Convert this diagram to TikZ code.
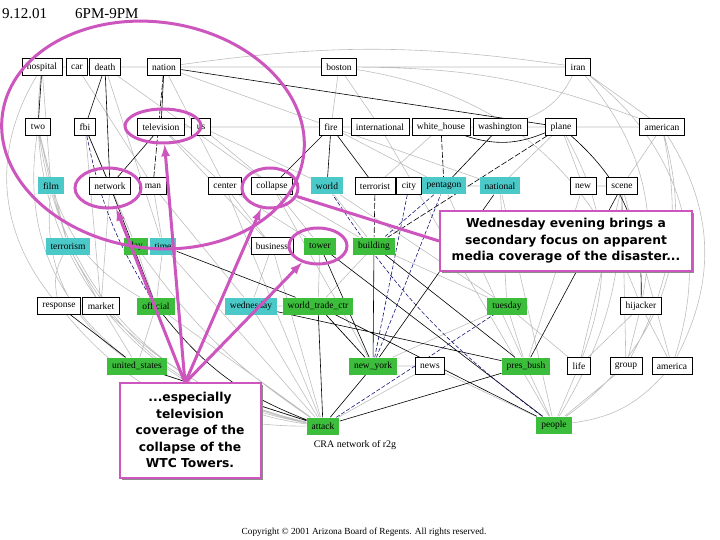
\documentclass[tikz,border=0pt]{standalone}
\usepackage{fontspec}
\setmainfont{Liberation Serif}
\newfontfamily\calloutfont{DejaVu Sans}
\usetikzlibrary{shapes.geometric,backgrounds,shadows}

\definecolor{termgreen}{RGB}{60,190,60}
\definecolor{termcyan}{RGB}{75,200,200}
\definecolor{callpink}{RGB}{205,85,190}
\definecolor{edgegray}{RGB}{190,190,190}
\definecolor{edgenavy}{RGB}{25,25,120}

\tikzset{
  term/.style={inner xsep=5pt, inner ysep=0pt, minimum height=17pt, font=\fontsize{9.5}{10}\selectfont},
  plainterm/.style={term, draw=black, line width=0.8pt, fill=white},
  greenterm/.style={term, fill=termgreen},
  cyanterm/.style={term, fill=termcyan},
  grayedge/.style={draw=edgegray, line width=0.6pt},
  blackedge/.style={draw=black, line width=0.6pt},
  brokenedge/.style={draw=black, line width=0.6pt, dash pattern=on 6pt off 2pt},
  navyedge/.style={draw=edgenavy, line width=0.6pt, dash pattern=on 4pt off 2pt},
  ring/.style={ellipse, draw=callpink, line width=3pt, inner sep=0pt},
  pointer/.style={draw=callpink, line width=3pt},
  callout/.style={draw=callpink, line width=2pt, fill=white, align=center, inner sep=0pt,
    font=\calloutfont\bfseries\fontsize{12.3}{16.5}\selectfont,
    drop shadow={shadow xshift=2pt, shadow yshift=-2pt, fill=black!45, opacity=1}},
}

\begin{document}
\begin{tikzpicture}[x=1pt, y=-1pt]
	\useasboundingbox (0,0) rectangle (720,540);

	% heading
	\node[anchor=west, inner sep=0pt, font=\fontsize{15}{16}\selectfont] (date) at (2,14) {9.12.01};
	\node[anchor=west, inner sep=0pt, font=\fontsize{15}{16}\selectfont] (slot) at (75,14) {6PM-9PM};

	% row 1
	\node[plainterm] (hospital) at (42,67) {hospital};
	\node[plainterm] (car) at (77,67) {car};
	\node[plainterm] (death) at (105,67) {death};
	\node[plainterm] (nation) at (164,67) {nation};
	\node[plainterm] (boston) at (339,67) {boston};
	\node[plainterm] (iran) at (578,67) {iran};
	% row 2
	\node[plainterm] (two) at (38,127) {two};
	\node[plainterm] (fbi) at (85,127) {fbi};
	\node[plainterm] (television) at (161,127) {television};
	\node[plainterm] (us) at (201,127) {us};
	\node[plainterm] (fire) at (331,127) {fire};
	\node[plainterm] (international) at (380,127) {international};
	\node[plainterm] (whitehouse) at (441,127) {white\_house};
	\node[plainterm] (washington) at (500,127) {washington};
	\node[plainterm] (plane) at (561,127) {plane};
	\node[plainterm] (american) at (662,127) {american};
	% row 3
	\node[cyanterm] (film) at (51,186) {film};
	\node[plainterm] (network) at (110,186) {network};
	\node[plainterm] (man) at (153,186) {man};
	\node[plainterm] (center) at (225,186) {center};
	\node[plainterm] (collapse) at (272,186) {collapse};
	\node[cyanterm] (world) at (327,186) {world};
	\node[plainterm] (terrorist) at (375,186) {terrorist};
	\node[plainterm] (city) at (409,186) {city};
	\node[cyanterm] (pentagon) at (444,186) {pentagon};
	\node[cyanterm] (national) at (500,186) {national};
	\node[plainterm] (new) at (583,186) {new};
	\node[plainterm] (scene) at (622,186) {scene};
	% row 4
	\node[cyanterm] (terrorism) at (68,246) {terrorism};
	\node[greenterm] (day) at (136,246) {day};
	\node[cyanterm] (time) at (163,246) {time};
	\node[plainterm] (business) at (272,246) {business};
	\node[greenterm] (tower) at (320,246) {tower};
	\node[greenterm] (building) at (374,246) {building};
	% row 5
	\node[plainterm] (response) at (59,306) {response};
	\node[plainterm] (market) at (101,306) {market};
	\node[greenterm] (official) at (156,306) {official};
	\node[cyanterm] (wednesday) at (251,306) {wednesday};
	\node[greenterm] (wtc) at (318,306) {world\_trade\_ctr};
	\node[greenterm] (tuesday) at (507,306) {tuesday};
	\node[plainterm] (hijacker) at (641,306) {hijacker};
	% row 6
	\node[greenterm] (usa) at (137,366) {united\_states};
	\node[greenterm] (newyork) at (373,366) {new\_york};
	\node[plainterm] (news) at (430,366) {news};
	\node[greenterm] (bush) at (526,366) {pres\_bush};
	\node[plainterm] (life) at (579,366) {life};
	\node[plainterm] (group) at (626,366) {group};
	\node[plainterm] (america) at (672,366) {america};
	% row 7
	\node[greenterm] (attack) at (323,426) {attack};
	\node[greenterm] (people) at (554,425) {people};

	\node[font=\fontsize{10}{11}\selectfont] (cralabel) at (355,445) {CRA network of r2g};
	\node[font=\fontsize{9.3}{10}\selectfont] (copyright) at (364,532) {Copyright \textcopyright{} 2001 Arizona Board of Regents. All rights reserved.};

	% links
	\begin{scope}[on background layer]
	\draw[grayedge] (hospital) -- (car) (hospital) -- (film) (hospital) to[bend right=35] (response) (car) -- (boston) (car) -- (man)
		(death) -- (boston) (death) -- (collapse) (death) -- (time) (nation) -- (boston) (nation) -- (center) (nation) -- (fire)
		(nation) to[bend left=8] (iran) (boston) -- (iran) (boston) -- (fire) (boston) -- (international) (boston) to[bend left=10] (american)
		(iran) -- (american) (iran) to[bend left=20] (washington) (two) -- (film) (two) to[bend right=30] (usa) (two) -- (terrorism)
		(fbi) -- (day) (fbi) -- (market) (television) -- (center) (television) -- (fire) (us) -- (world) (us) -- (international)
		(us) -- (collapse) (fire) -- (international) (fire) -- (pentagon) (international) -- (whitehouse) (whitehouse) -- (washington)
		(washington) -- (american) (american) -- (scene) (american) to[bend left=30] (america) (american) to[bend left=20] (group)
		(plane) -- (new) (plane) -- (national) (network) -- (market) (network) -- (day) (man) -- (time) (man) -- (wednesday)
		(center) -- (business) (center) -- (tower) (collapse) -- (building) (collapse) -- (tower) (world) -- (building)
		(terrorist) -- (city) (city) -- (pentagon) (pentagon) -- (national) (national) -- (tuesday) (new) -- (scene) (new) -- (bush)
		(scene) -- (life) (scene) -- (group) (scene) -- (america) (film) -- (terrorism) (terrorism) to[bend right=20] (response)
		(terrorism) -- (market) (day) -- (official) (time) -- (official) (business) -- (wednesday) (tower) -- (wtc) (building) -- (wtc)
		(building) -- (tuesday) (response) -- (market) (market) -- (usa) (official) -- (usa) (wednesday) -- (wtc) (wtc) -- (newyork)
		(tuesday) -- (newyork) (tuesday) -- (bush) (tuesday) -- (life) (hijacker) -- (life) (hijacker) -- (group) (hijacker) -- (america)
		(newyork) -- (news) (news) -- (attack) (news) -- (people) (bush) -- (people) (life) -- (people) (group) -- (people)
		(america) to[bend left=20] (people) (usa) -- (attack) (attack) -- (official) (attack) -- (wednesday) (attack) to[bend left=25] (response)
		(film) to[bend right=30] (usa) (international) -- (people) (business) -- (attack) (time) -- (attack) (day) to[bend right=10] (attack)
		(television) -- (business) (fire) -- (national) (whitehouse) -- (terrorist) (plane) to[bend left=25] (life) (iran) to[bend left=25] (hijacker)
		(center) -- (attack) (collapse) -- (newyork) (world) -- (tuesday) (pentagon) -- (bush) (national) -- (people) (scene) to[bend left=15] (people)
		(hospital) to[bend right=45] (attack) (two) to[bend right=35] (attack) (american) to[bend left=35] (people) (iran) to[bend left=35] (america)
		(boston) to[bend left=30] (hijacker) (film) to[bend right=20] (official) (terrorism) to[bend right=25] (attack) (market) to[bend right=15] (attack);
	\draw[blackedge] (hospital) -- (two) (death) -- (fbi) (death) -- (network) (nation) -- (television) (nation) -- (plane)
		(plane) to[bend left=25] (hijacker) (whitehouse) to[bend right=20] (plane) (fbi) -- (network) (television) -- (network)
		(fire) -- (collapse) (fire) -- (terrorist) (fire) -- (world) (washington) -- (pentagon) (network) -- (official)
		(time) -- (wtc) (response) -- (usa) (usa) -- (attack) (official) to[bend right=15] (attack) (wtc) -- (attack)
		(wednesday) -- (bush) (attack) -- (newyork) (attack) -- (bush) (newyork) -- (building) (newyork) -- (tower)
		(newyork) -- (wtc) (newyork) -- (national) (wtc) -- (people) (bush) -- (scene) (bush) -- (building) (people) -- (tower);
	\draw[brokenedge] (nation) -- (man) (terrorist) -- (building) (plane) -- (building) (whitehouse) -- (pentagon);
	\draw[navyedge] (fbi) to[bend right=10] (official) (city) -- (newyork) (pentagon) -- (building) (attack) -- (tuesday)
		(people) to[bend left=10] (world) (newyork) -- (pentagon);
	\end{scope}

	% highlights
	\node[ring, rotate=-8, minimum width=304pt, minimum height=226pt] (bigring) at (153,135) {};
	\node[ring, minimum width=66pt, minimum height=40pt] (netring) at (108,188) {};
	\node[ring, minimum width=76pt, minimum height=34pt] (tvring) at (163,126) {};
	\node[ring, minimum width=56pt, minimum height=40pt] (colring) at (270,188) {};
	\node[ring, minimum width=58pt, minimum height=36pt] (towring) at (318,246) {};

	\node[callout, minimum width=252pt, minimum height=60pt] (evening) at (566,241)
		{Wednesday evening brings a\\ secondary focus on apparent\\ media coverage of the disaster...};
	\node[callout, minimum width=141pt, minimum height=95pt] (towers) at (190,430)
		{...especially\\ television\\ coverage of the\\ collapse of the\\ WTC Towers.};
	\coordinate (hub) at (185,383);

	\draw[pointer] (colring) -- (evening.west);
	\draw[pointer, -latex] (hub) -- (netring);
	\draw[pointer, -latex] (hub) -- (tvring);
	\draw[pointer, -latex] (hub) -- (colring);
	\draw[pointer, -latex] (hub) -- (towring);
\end{tikzpicture}
\end{document}
